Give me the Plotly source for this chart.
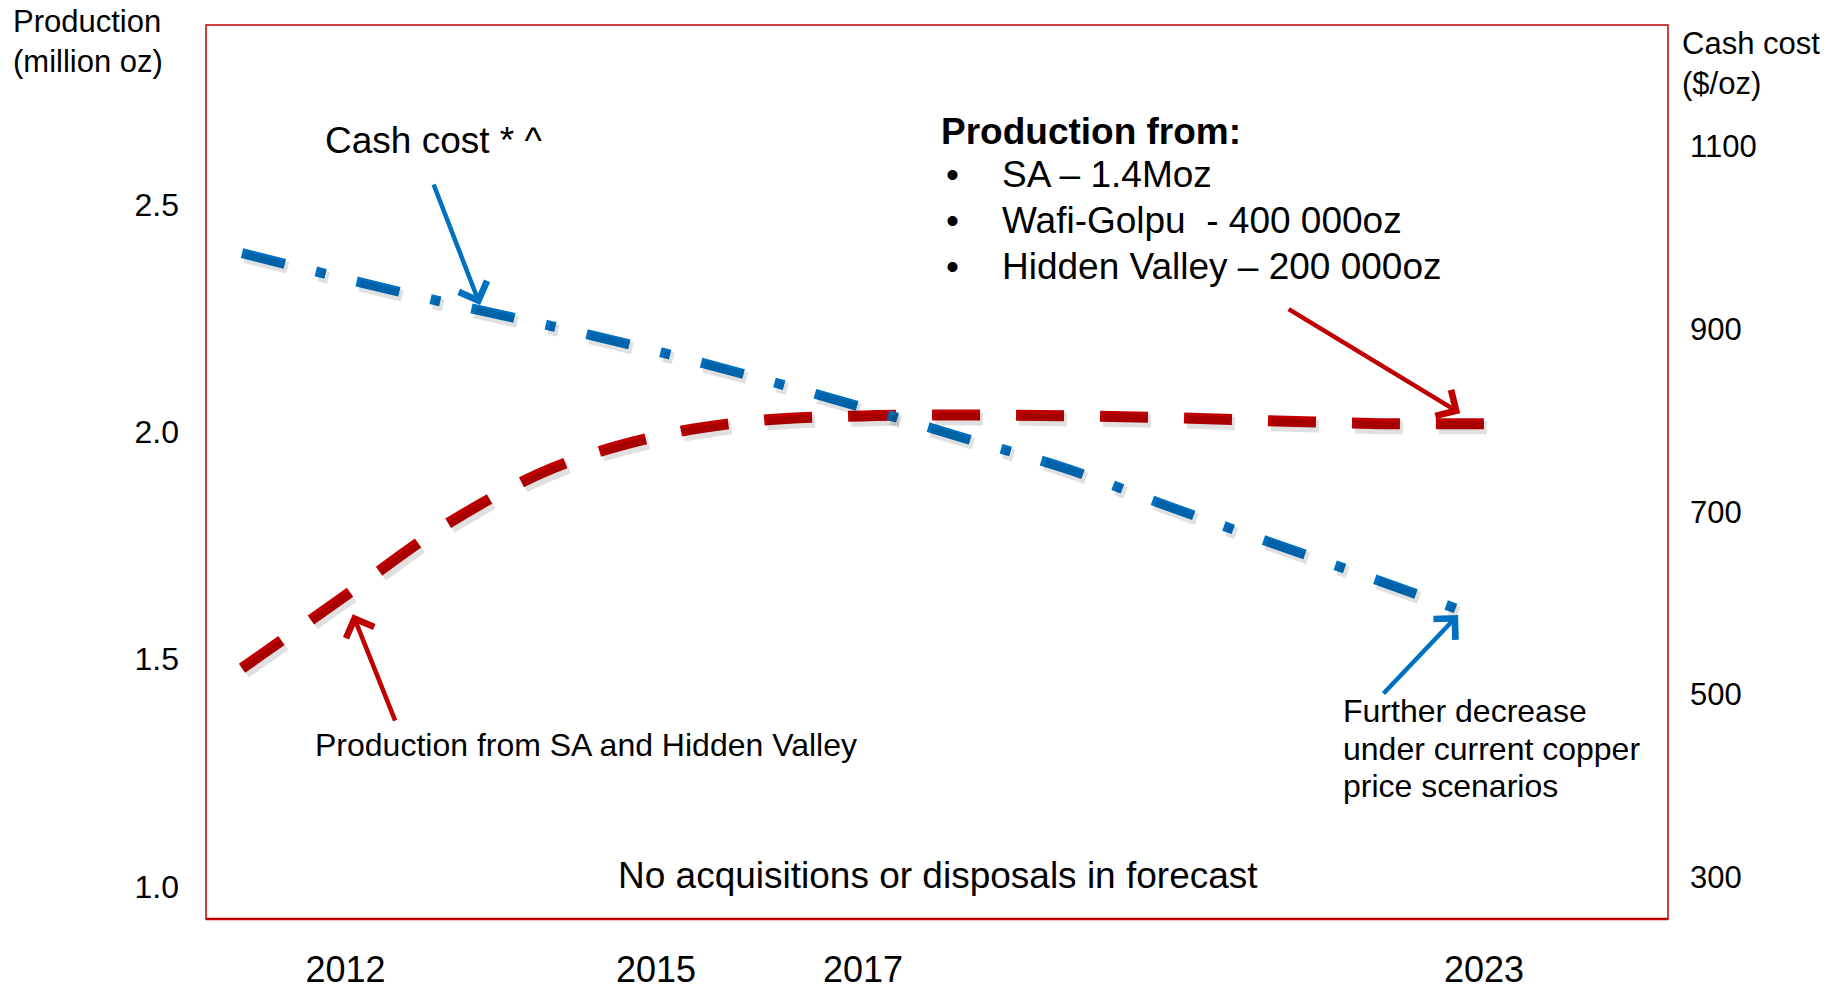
import plotly.graph_objects as go

# ---- data -------------------------------------------------------------
years = [2011, 2012, 2013, 2014, 2015, 2016, 2017, 2018, 2019, 2020, 2021, 2022, 2023]
production_moz = [1.48, 1.64, 1.80, 1.92, 1.99, 2.025, 2.035, 2.037, 2.035, 2.031, 2.024, 2.018, 2.018]
cash_cost_usd_oz = [983, 955, 928, 903, 876, 846, 814, 780, 746, 704, 664, 624, 583]

year_ticks = [2012, 2015, 2017, 2023]
production_ticks = [1.0, 1.5, 2.0, 2.5]
cost_ticks = [300, 500, 700, 900, 1100]

bullet_lines = ["SA \u2013 1.4Moz", "Wafi-Golpu  - 400 000oz", "Hidden Valley \u2013 200 000oz"]
decrease_lines = ["Further decrease", "under current copper", "price scenarios"]

# ---- layout constants -------------------------------------------------
W, H = 1827, 989
M = dict(l=206, r=159, t=25, b=70)
PW, PH = W - M["l"] - M["r"], H - M["t"] - M["b"]
FONT = "Liberation Sans, Arial, sans-serif"
RED = "#C00000"
BLUE = "#0070C0"

x_range = [2010.652, 2024.778]
y_range = [0.9286, 2.8947]
y2_range = [254.5, 1232.6]

# soft drop shadow: same series drawn on twin axes nudged a few px right/down
SHX, SHY = 3, 4
dx = (x_range[1] - x_range[0]) / PW * SHX
dy1 = (y_range[1] - y_range[0]) / PH * SHY
dy2 = (y2_range[1] - y2_range[0]) / PH * SHY

RED_DASH = "48px,36px"
BLUE_DASH = "44px,32px,10px,32px"
SHADOW = "rgba(0,0,0,0.12)"

fig = go.Figure()

fig.add_trace(go.Scatter(x=years, y=production_moz, xaxis="x2", yaxis="y3", mode="lines",
                         line=dict(color=SHADOW, width=13, dash=RED_DASH, shape="spline"),
                         hoverinfo="skip", showlegend=False))
fig.add_trace(go.Scatter(x=years, y=cash_cost_usd_oz, xaxis="x2", yaxis="y4", mode="lines",
                         line=dict(color=SHADOW, width=12, dash=BLUE_DASH, shape="spline"),
                         hoverinfo="skip", showlegend=False))

fig.add_trace(go.Scatter(x=years, y=production_moz, name="Production", mode="lines",
                         line=dict(color=RED, width=11, dash=RED_DASH, shape="spline"),
                         showlegend=False))
fig.add_trace(go.Scatter(x=years, y=cash_cost_usd_oz, name="Cash cost", yaxis="y2", mode="lines",
                         line=dict(color=BLUE, width=10, dash=BLUE_DASH, shape="spline"),
                         showlegend=False))

annotations = []


def text(x, y, s, size, xanchor="left", bold=False):
    annotations.append(dict(
        xref="paper", yref="paper",
        x=(x - M["l"]) / PW, y=(H - M["b"] - y) / PH,
        text=f"<b>{s}</b>" if bold else s, showarrow=False,
        xanchor=xanchor, yanchor="middle", align="left",
        font=dict(family=FONT, size=size, color="black")))


def arrow(x, y, yref, ax, ay, color):
    annotations.append(dict(
        x=x, y=y, xref="x", yref=yref, ax=ax, ay=ay, axref="pixel", ayref="pixel",
        text="", showarrow=True, arrowhead=4, arrowsize=1.3, arrowwidth=4.5,
        arrowcolor=color, standoff=0, startstandoff=0, font=dict(size=1)))


# axis captions
text(11, 42, "Production<br>(million oz)", 31)
text(1680, 64, "Cash cost<br>($/oz)", 31)

# callouts
text(323, 140, "Cash cost * ^", 37)
text(939, 131, "Production from:", 37, bold=True)
for i, s in enumerate(bullet_lines):
    yy = 175 + i * 45.5
    text(944, yy, "\u2022", 37)
    text(1000, yy, s, 37)
text(313, 745, "Production from SA and Hidden Valley", 32)
for i, s in enumerate(decrease_lines):
    text(1341, 711 + i * 37.5, s, 32)
text(938, 875, "No acquisitions or disposals in forecast", 37, xanchor="center")

# pointer arrows
arrow(2013.30, 926.3, "y2", -47, -122, BLUE)
arrow(2012.07, 1.599, "y", 43, 108, RED)
arrow(2022.77, 2.041, "y", -173, -105, RED)
arrow(2022.75, 587.1, "y2", -76, 80, BLUE)

fig.update_layout(
    width=W, height=H, margin=dict(M, autoexpand=False),
    paper_bgcolor="white", plot_bgcolor="white",
    font=dict(family=FONT, color="black"),
    showlegend=False,
    annotations=annotations,
    xaxis=dict(range=x_range, tickvals=year_ticks, ticktext=[str(y) for y in year_ticks],
               showgrid=False, zeroline=False, showline=False, ticks="", automargin=False,
               ticklabelstandoff=26, tickfont=dict(size=36)),
    xaxis2=dict(range=[x_range[0] - dx, x_range[1] - dx], overlaying="x", visible=False),
    yaxis=dict(range=y_range, tickvals=production_ticks, tickformat=".1f", automargin=False,
               showgrid=False, zeroline=False, showline=False, ticks="",
               ticklabelstandoff=26, tickfont=dict(size=32)),
    yaxis2=dict(range=y2_range, tickvals=cost_ticks, overlaying="y", side="right",
                showgrid=False, zeroline=False, showline=False, ticks="", automargin=False,
                ticklabelstandoff=21, tickfont=dict(size=31)),
    yaxis3=dict(range=[y_range[0] + dy1, y_range[1] + dy1], overlaying="y", visible=False),
    yaxis4=dict(range=[y2_range[0] + dy2, y2_range[1] + dy2], overlaying="y", visible=False),
    shapes=[
        dict(type="rect", xref="paper", yref="paper", x0=0, y0=0, x1=1, y1=1,
             line=dict(color=RED, width=1.5), layer="above"),
        dict(type="line", xref="paper", yref="paper", x0=0, y0=0, x1=1, y1=0,
             line=dict(color=RED, width=2.5), layer="above"),
    ],
)

fig.write_html("out.html")
